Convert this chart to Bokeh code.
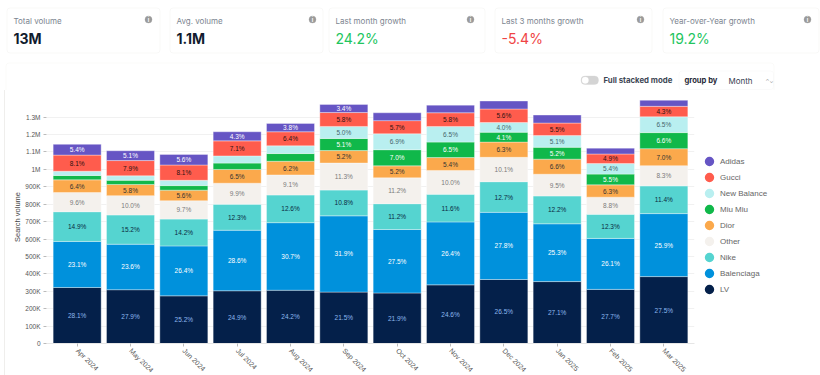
from bokeh.plotting import figure
from bokeh.models import (BoxAnnotation, Label, Legend, LegendItem, FactorRange, Range1d,
                          FixedTicker, ColumnDataSource)
from bokeh.core.properties import value
from bokeh.embed import file_html
from bokeh.resources import INLINE
import math

months = ["Apr 2024","May 2024","Jun 2024","Jul 2024","Aug 2024","Sep 2024","Oct 2024","Nov 2024","Dec 2024","Jan 2025","Feb 2025","Mar 2025"]
totals = [1145,1107,1086,1216,1264,1373,1325,1369,1387,1312,1122,1397]  # thousands

LV         = [28.1,27.9,25.2,24.9,24.2,21.5,21.9,24.6,26.5,27.1,27.7,27.5]
Balenciaga = [23.1,23.6,26.4,28.6,30.7,31.9,27.5,26.4,27.8,25.3,26.1,25.9]
Nike       = [14.9,15.2,14.2,12.3,12.6,10.8,11.2,11.6,12.7,12.2,12.3,11.4]
Other      = [9.6,10.0,9.7,9.9,9.1,11.3,11.2,10.0,10.1,9.5,8.8,8.3]
Dior       = [6.4,5.8,5.6,6.5,6.2,5.2,5.2,5.4,6.3,6.6,6.3,7.0]
MiuMiu     = [2.2,2.2,2.4,3.0,3.5,5.1,7.0,6.5,4.1,5.2,5.5,6.6]
NewBalance = [2.1,2.3,2.8,3.4,3.5,5.0,6.9,6.5,4.0,5.1,5.4,6.5]
Gucci      = [8.1,7.9,8.1,7.1,6.4,5.8,5.7,5.8,5.6,5.5,4.9,4.3]
Adidas     = [5.4,5.1,5.6,4.3,3.8,3.4,3.4,3.2,3.3,3.5,3.0,2.5]

series_names = ["LV","Balenciaga","Nike","Other","Dior","Miu Miu","New Balance","Gucci","Adidas"]
series_pct = [LV,Balenciaga,Nike,Other,Dior,MiuMiu,NewBalance,Gucci,Adidas]
colors = ["#04204a","#0091dc","#55d4d0","#f4f1ed","#fba94c","#10b84a","#b9eff0","#ff5c4d","#6655c4"]
label_colors = ["#8db8ee","#ffffff","#0b2a40","#7a7a7a","#333333","#ffffff","#47666c","#2a1210","#ffffff"]
min_labelled = 3.6
unlabelled = {("Adidas","Oct 2024"),("Adidas","Nov 2024"),("Adidas","Dec 2024"),("Adidas","Jan 2025"),("Adidas","Feb 2025"),("Adidas","Mar 2025")}
labelled_small = {("Adidas","Sep 2024")}

ytick_values = [0,100000,200000,300000,400000,500000,600000,700000,800000,900000,1000000,1100000,1200000,1300000]
ytick_labels = ["0","100K","200K","300K","400K","500K","600K","700K","800K","900K","1M","1.1M","1.2M","1.3M"]

cards = [("Total volume","13M","#111b2e"),("Avg. volume","1.1M","#111b2e"),("Last month growth","24.2%","#22c55e"),
         ("Last 3 months growth","-5.4%","#ef4444"),("Year-over-Year growth","19.2%","#22c55e")]
card_edges = [(6,159),(169,322),(328,484),(494,651),(662,818)]
icon_x = [148,312,470,640,807]

# header strip: cards and controls, in page pixels
HH = 90
h = figure(width=820, height=HH, frame_width=820, frame_height=HH,
           x_range=Range1d(0,820), y_range=Range1d(HH,0), x_axis_type=None, y_axis_type=None,
           output_backend="svg", toolbar_location=None, min_border=0, min_border_left=0, min_border_right=0,
           min_border_top=0, min_border_bottom=0, outline_line_color=None)
h.grid.visible = False

def box(l, t, r, b, fill="#ffffff", line="#e9e7e4", radius=3, alpha=1):
    h.add_layout(BoxAnnotation(left=l, right=r, top=t, bottom=b, fill_color=fill, fill_alpha=alpha,
                               line_color=line, line_width=1, border_radius=radius))
def text(x, y, s, size, color, font="Inter", style="normal", align="left", baseline="middle"):
    h.add_layout(Label(x=x, y=y, text=s, text_font=font, text_font_size=size, text_color=color,
                       text_font_style=style, text_align=align, text_baseline=baseline))

box(5.5, 62.5, 773.5, 120, alpha=0, line="#efeeec")
for (title, val, col), (l, r), ix in zip(cards, card_edges, icon_x):
    box(l+0.5, 7.5, r+0.5, 52.5)
    text(l+7, 20, title, "8px", "#7c8590")
    text(l+7, 38, val, "14px", col, style="bold" if col == "#111b2e" else "normal")
    box(ix-3.5, 15.5, ix+3.5, 22.5, fill="#9a9a9a", line="#9a9a9a", radius=4)
    text(ix, 19, "i", "5.5px", "#ffffff", align="center", style="bold")

box(580.5, 75.5, 598, 84, fill="#d4d4d4", line="#d4d4d4", radius=4)
box(581.5, 76.5, 588, 83, fill="#ffffff", line="#ffffff", radius=4)
text(603, 79, "Full stacked mode", "7.8px", "#3d4654", style="bold")
box(678.5, 70.5, 773, 89, line="#eeeeee")
text(684, 80, "group by", "7.6px", "#1f2937", style="bold")
text(728, 80, "Month", "8px", "#374151")
text(769, 80, "⌃⌄", "5px", "#777777", align="center")

# chart
CL, CW, CH = 5, 815, 285
FL, FW, FH = 46, 648, 253
p = figure(width=CW, height=CH, frame_width=FW, frame_height=FH,
           x_range=FactorRange(*months, range_padding=0.0125),
           y_range=Range1d(0, 1453000), output_backend="svg", toolbar_location=None,
           min_border_left=FL-CL, min_border_right=820-FL-FW, min_border_top=0, min_border_bottom=CH-FH,
           outline_line_color=None, margin=(0,0,0,CL),
           styles={"box-shadow": "-1px 0 0 #efeeec"})

data = {"month": months}
for n, s in zip(series_names, series_pct):
    data[n] = [t*1000*v/100 for t, v in zip(totals, s)]
src = ColumnDataSource(data)
p.vbar_stack(series_names, x="month", width=0.9, source=src, color=colors,
             line_color="#ffffff", line_alpha=0.35, line_width=1)

base = [0]*12
for name, col, lc in zip(series_names, series_pct, label_colors):
    vals = data[name]
    xs, ys, ts = [], [], []
    for i, m in enumerate(months):
        if (col[i] >= min_labelled or (name, m) in labelled_small) and (name, m) not in unlabelled:
            xs.append(m); ys.append(base[i]+vals[i]/2); ts.append(f"{col[i]:.1f}%")
        base[i] += vals[i]
    p.text(x=xs, y=ys, text=ts, text_align="center", text_baseline="middle",
           text_font=value("Liberation Sans"), text_font_size="6.5px", text_color=lc)

p.yaxis.ticker = FixedTicker(ticks=ytick_values)
p.yaxis.major_label_overrides = dict(zip(ytick_values, ytick_labels))
p.yaxis.axis_label = "Search volume"
p.yaxis.axis_label_text_font = "Liberation Sans"
p.yaxis.axis_label_text_font_size = "7.5px"
p.yaxis.axis_label_text_font_style = "normal"
p.yaxis.axis_label_text_color = "#444444"
p.yaxis.axis_label_standoff = 0
p.yaxis.axis_line_color = None
p.yaxis.major_tick_line_color = "#bbbbbb"
p.yaxis.major_tick_out = 3
p.yaxis.major_tick_in = 0
p.yaxis.minor_tick_line_color = None
p.yaxis.major_label_text_font = "Liberation Sans"
p.yaxis.major_label_text_font_size = "6.5px"
p.yaxis.major_label_text_color = "#555555"
p.yaxis.major_label_standoff = 3
p.xaxis.axis_line_color = "#e6e6e6"
p.xaxis.major_tick_line_color = "#bbbbbb"
p.xaxis.major_tick_out = 3
p.xaxis.major_tick_in = 0
p.xaxis.major_label_orientation = -math.pi/4
p.xaxis.major_label_text_font = "Liberation Sans"
p.xaxis.major_label_text_font_size = "7px"
p.xaxis.major_label_text_color = "#555555"
p.xaxis.major_label_standoff = 3
p.xgrid.grid_line_color = None
p.ygrid.grid_line_color = "#f1f1f1"

items = []
for name, c in reversed(list(zip(series_names, colors))):
    r = p.circle(x=[months[0]], y=[float("nan")], radius=1, fill_color=c, line_color=c, line_width=3)
    items.append(LegendItem(label=name, renderers=[r]))
legend = Legend(items=items, location=(7,46), orientation="vertical", glyph_width=16, glyph_height=16,
                spacing=0, label_standoff=3, padding=0, margin=0, border_line_color=None,
                background_fill_alpha=0, label_text_font="Liberation Sans", label_text_font_size="8px",
                label_text_color="#666666", label_height=16)
p.add_layout(legend, "right")

open("out.html", "w").write(file_html([h, p], INLINE))
